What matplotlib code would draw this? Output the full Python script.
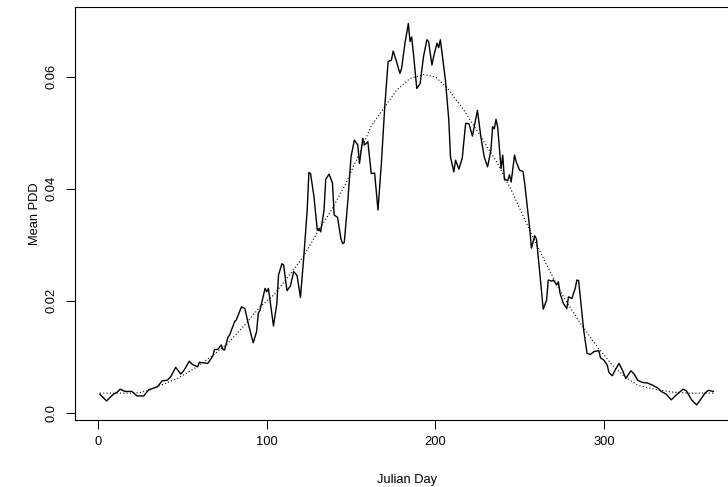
import matplotlib
matplotlib.use("Agg")
import matplotlib.pyplot as plt

plt.rcParams['font.family'] = ['Liberation Sans', 'DejaVu Sans']

days = [1, 3, 5, 7, 9, 11, 13, 16, 20, 23, 27, 30, 35, 38, 41, 43, 46, 49, 51, 54,
        56, 59, 60, 65, 68, 69, 71, 73, 74, 75, 77, 78, 81, 82, 85, 87, 89, 91, 92, 94,
        95, 96, 99, 100, 101, 104, 106, 107, 109, 110, 112, 114, 116, 118, 120, 122, 124, 125, 126, 128,
        130, 131, 132, 134, 135, 137, 139, 140, 142, 144, 145, 146, 148, 150, 152, 154, 155, 157, 158, 160,
        162, 164, 166, 168, 170, 172, 174, 175, 177, 179, 180, 182, 184, 185, 186, 187, 189, 191, 193, 195,
        196, 198, 199, 201, 202, 203, 205, 206, 208, 209, 211, 212, 214, 216, 218, 220, 222, 225, 227, 229,
        231, 233, 234, 235, 236, 237, 239, 240, 241, 243, 244, 245, 247, 248, 250, 252, 253, 255, 256, 257,
        259, 260, 262, 264, 266, 267, 269, 270, 272, 273, 274, 276, 278, 279, 281, 283, 284, 285, 287, 288,
        290, 292, 294, 297, 298, 300, 302, 303, 305, 307, 309, 311, 313, 316, 318, 320, 323, 326, 329, 332,
        334, 337, 340, 343, 347, 349, 352, 355, 357, 360, 362, 365]
pdd = [0.0033, 0.0027, 0.0021, 0.0027, 0.0033, 0.0036, 0.0042, 0.0038, 0.0038, 0.0030, 0.0030, 0.0041, 0.0046, 0.0057, 0.0058, 0.0064, 0.0081, 0.0069, 0.0076, 0.0092,
       0.0086, 0.0082, 0.0090, 0.0088, 0.0101, 0.0113, 0.0113, 0.0121, 0.0113, 0.0112, 0.0135, 0.0139, 0.0163, 0.0166, 0.0189, 0.0186, 0.0160, 0.0136, 0.0125, 0.0145,
       0.0178, 0.0183, 0.0222, 0.0216, 0.0222, 0.0155, 0.0195, 0.0246, 0.0266, 0.0264, 0.0218, 0.0226, 0.0252, 0.0245, 0.0206, 0.0279, 0.0362, 0.0429, 0.0427, 0.0386,
       0.0326, 0.0329, 0.0323, 0.0362, 0.0417, 0.0426, 0.0410, 0.0353, 0.0349, 0.0311, 0.0302, 0.0304, 0.0374, 0.0457, 0.0487, 0.0478, 0.0445, 0.0490, 0.0478, 0.0484,
       0.0427, 0.0428, 0.0362, 0.0445, 0.0546, 0.0627, 0.0630, 0.0646, 0.0627, 0.0606, 0.0615, 0.0660, 0.0695, 0.0663, 0.0671, 0.0642, 0.0579, 0.0588, 0.0636, 0.0666,
       0.0663, 0.0621, 0.0636, 0.0660, 0.0652, 0.0666, 0.0618, 0.0594, 0.0523, 0.0457, 0.0430, 0.0451, 0.0435, 0.0455, 0.0517, 0.0516, 0.0494, 0.0540, 0.0493, 0.0457,
       0.0439, 0.0469, 0.0511, 0.0507, 0.0524, 0.0510, 0.0436, 0.0460, 0.0416, 0.0415, 0.0425, 0.0412, 0.0460, 0.0448, 0.0433, 0.0431, 0.0410, 0.0356, 0.0329, 0.0294,
       0.0316, 0.0310, 0.0249, 0.0185, 0.0201, 0.0237, 0.0235, 0.0237, 0.0228, 0.0234, 0.0213, 0.0195, 0.0186, 0.0207, 0.0204, 0.0222, 0.0237, 0.0236, 0.0178, 0.0148,
       0.0106, 0.0104, 0.0109, 0.0111, 0.0098, 0.0094, 0.0085, 0.0072, 0.0066, 0.0078, 0.0088, 0.0076, 0.0061, 0.0075, 0.0069, 0.0058, 0.0054, 0.0053, 0.0049, 0.0044,
       0.0038, 0.0033, 0.0023, 0.0032, 0.0042, 0.0039, 0.0023, 0.0014, 0.0022, 0.0035, 0.0040, 0.0038]

# Fitted curve (dotted)
fit_days = [1, 10, 20, 25, 30, 37, 47, 57, 67, 77, 87, 96, 104, 112, 122, 130, 139, 147, 154, 162,
            170, 177, 185, 193, 200, 207, 217, 227, 237, 245, 256, 266, 276, 286, 296, 305, 312, 320, 330, 340,
            350, 365]
fit_pdd = [0.0035, 0.0035, 0.0035, 0.0036, 0.0040, 0.0049, 0.0061, 0.0079, 0.0100, 0.0124, 0.0157, 0.0189, 0.0210, 0.0240, 0.0280, 0.0322, 0.0365, 0.0410, 0.0457, 0.0512,
           0.0546, 0.0576, 0.0597, 0.0604, 0.0600, 0.0580, 0.0540, 0.0493, 0.0445, 0.0398, 0.0326, 0.0264, 0.0207, 0.0160, 0.0118, 0.0085, 0.0065, 0.0049, 0.0042, 0.0037,
           0.0035, 0.0035]

x_ticks = [0, 100, 200, 300]
y_ticks = [0.0, 0.02, 0.04, 0.06]
y_tick_labels = ["0.0", "0.02", "0.04", "0.06"]

W, H = 728, 487
fig = plt.figure(figsize=(W / 100, H / 100), dpi=100)
left, right, top, bottom = 75.3, 738.0, 7.3, 420.0
ax = fig.add_axes([left / W, 1 - bottom / H, (right - left) / W, (bottom - top) / H])

ax.plot(days, pdd, color='black', lw=1.0)
ax.plot(fit_days, fit_pdd, color='black', lw=0.8, linestyle=(0, (1, 2)))

ax.set_xlim(-13.56, 379.56)
ax.set_ylim(-0.0013, 0.0724)
ax.set_xticks(x_ticks)
ax.set_xticklabels([str(t) for t in x_ticks])
ax.set_yticks(y_ticks)
ax.set_yticklabels(y_tick_labels, rotation=90, va='center')

fs = 9.3
ax.tick_params(axis='both', length=6.5, width=0.75, labelsize=fs, color='black')
ax.tick_params(axis='x', pad=4.8)
ax.tick_params(axis='y', pad=6.5)
for s in ax.spines.values():
    s.set_linewidth(0.8)

ax.set_xlabel('Julian Day', fontsize=fs)
ax.xaxis.set_label_coords(0.5, (bottom - 480) / (bottom - top))
ax.xaxis.label.set_va('center')
ax.set_ylabel('Mean PDD', fontsize=fs)
ax.yaxis.set_label_coords((35 - left) / (right - left), 0.5)
ax.yaxis.label.set_va('center')

fig.savefig('out.png', dpi=100)
